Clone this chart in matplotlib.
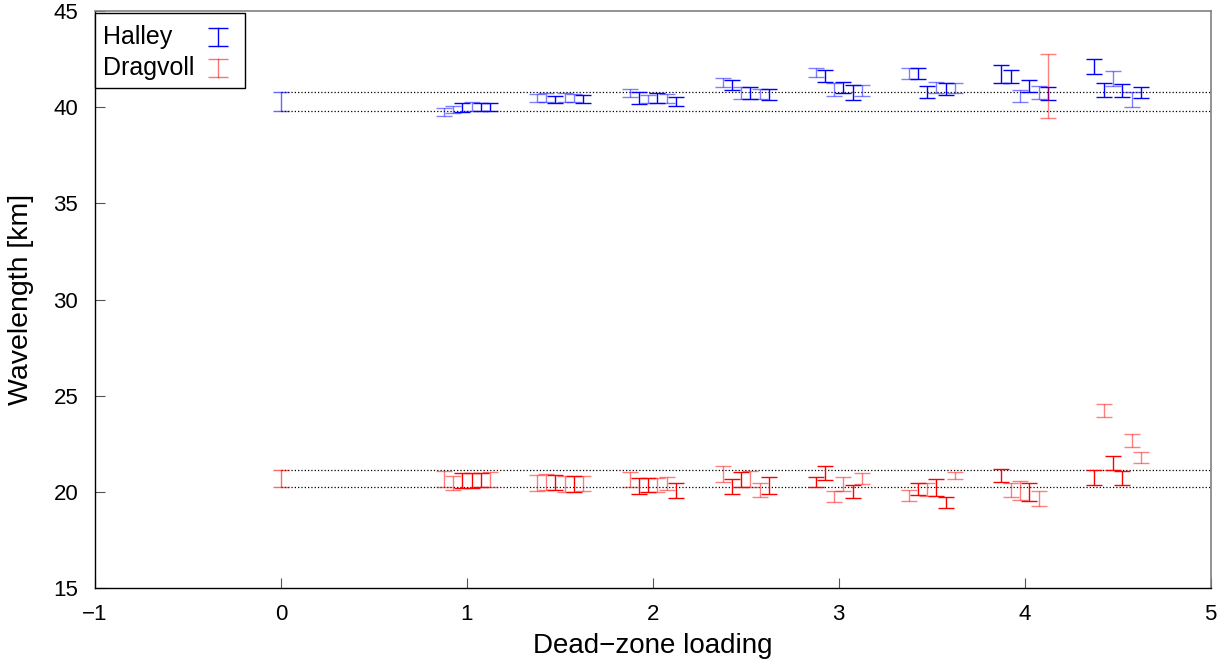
import numpy as np
import matplotlib
matplotlib.use("Agg")
import matplotlib.pyplot as plt
from matplotlib.patches import Rectangle

plt.rcParams['font.family'] = ['Liberation Sans', 'DejaVu Sans']

# dead-zone loading of each group and the offsets of the six runs inside a group
loadings = [1.0, 1.5, 2.0, 2.5, 3.0, 3.5, 4.0, 4.5]
offsets = [-0.125, -0.075, -0.025, 0.025, 0.075, 0.125]

# reference run at zero loading: (low, high)
halley_ref = (39.82, 40.77)
dragvoll_ref = (20.27, 21.13)

# Halley: low / high end of each run, one row per loading
halley_low = [
    [39.54, 39.68, 39.76, 39.82, 39.82, 39.82],
    [40.25, 40.29, 40.20, 40.29, 40.25, 40.20],
    [40.51, 40.17, 40.23, 40.23, 40.20, 40.06],
    [41.04, 40.90, 40.43, 40.43, 40.43, 40.37],
    [41.56, 41.33, 40.60, 40.72, 40.37, 40.58],
    [41.45, 41.45, 40.46, 40.72, 40.64, 40.72],
    [41.28, 41.28, 40.29, 40.78, 40.43, 40.36],
    [41.75, 40.53, 41.11, 40.51, 40.03, 40.46],
]
halley_high = [
    [39.97, 40.08, 40.20, 40.29, 40.23, 40.23],
    [40.67, 40.72, 40.60, 40.72, 40.69, 40.64],
    [40.95, 40.81, 40.64, 40.72, 40.69, 40.55],
    [41.54, 41.42, 41.04, 41.04, 40.93, 40.93],
    [42.03, 41.91, 41.28, 41.33, 41.16, 41.16],
    [42.06, 42.03, 41.11, 41.30, 41.25, 41.25],
    [42.20, 41.91, 40.90, 41.42, 41.11, 41.07],
    [42.50, 41.25, 41.86, 41.21, 40.78, 41.07],
]
# which runs are drawn pale
halley_pale = [
    [1, 1, 0, 1, 0, 0],
    [1, 1, 0, 1, 1, 0],
    [1, 0, 1, 0, 1, 0],
    [1, 0, 1, 0, 1, 0],
    [1, 0, 1, 0, 0, 1],
    [1, 0, 0, 1, 0, 1],
    [0, 0, 1, 0, 1, 0],
    [0, 0, 1, 0, 1, 0],
]

# Dragvoll
dragvoll_low = [
    [20.27, 20.13, 20.19, 20.19, 20.24, 20.27],
    [20.05, 20.10, 20.10, 20.01, 19.98, 20.05],
    [20.27, 19.92, 19.98, 19.98, 20.10, 19.71],
    [20.53, 19.89, 20.27, 20.27, 19.75, 19.92],
    [20.25, 20.62, 19.47, 20.06, 19.68, 20.41],
    [19.52, 19.87, 19.82, 19.80, 19.19, 20.66],
    [20.53, 19.75, 19.58, 19.52, 19.26, 39.45],
    [20.39, 23.90, 21.17, 20.39, 22.34, 21.52],
]
dragvoll_high = [
    [21.09, 20.85, 21.00, 21.00, 21.00, 21.04],
    [20.88, 20.95, 20.88, 20.85, 20.85, 20.85],
    [21.07, 20.71, 20.71, 20.74, 20.79, 20.45],
    [21.35, 20.66, 21.02, 21.09, 20.45, 20.76],
    [20.81, 21.35, 20.06, 20.81, 20.36, 21.00],
    [20.13, 20.48, 20.45, 20.66, 19.75, 21.07],
    [21.18, 20.45, 20.59, 20.45, 20.06, 42.76],
    [21.17, 24.56, 21.88, 21.09, 23.01, 22.09],
]
dragvoll_pale = [
    [1, 1, 0, 0, 0, 1],
    [1, 1, 0, 1, 0, 1],
    [1, 0, 0, 1, 1, 0],
    [1, 0, 0, 1, 1, 0],
    [0, 0, 1, 1, 0, 1],
    [1, 0, 1, 0, 0, 1],
    [0, 1, 1, 0, 1, 1],
    [0, 1, 0, 0, 1, 1],
]

series_names = ['Halley', 'Dragvoll']


def draw_series(ax, ref, low, high, pale, color):
    x = np.add.outer(loadings, offsets)
    low = np.array(low)
    high = np.array(high)
    pale = np.array(pale, dtype=bool)
    kw = dict(fmt='none', ecolor=color, elinewidth=1.0, capsize=5.8, capthick=1.0)
    for mask, alpha in [(pale, 0.5), (~pale, 1.0)]:
        mid = (low[mask] + high[mask]) / 2
        half = (high[mask] - low[mask]) / 2
        ax.errorbar(x[mask], mid, yerr=half, alpha=alpha, **kw)
    ax.errorbar([0], [(ref[0] + ref[1]) / 2], yerr=[(ref[1] - ref[0]) / 2],
                alpha=0.6, **kw)
    # reference band from the zero-loading run
    ax.hlines(ref, 0, 5, colors='black', linestyles=':', linewidth=0.9, zorder=0)


fig = plt.figure(figsize=(12.32, 6.64), dpi=100)
ax = fig.add_axes([0.0771, 0.114, 0.9056, 0.8694])

draw_series(ax, halley_ref, halley_low, halley_high, halley_pale, 'blue')
draw_series(ax, dragvoll_ref, dragvoll_low, dragvoll_high, dragvoll_pale, 'red')

ax.set_xlim(-1, 5)
ax.set_ylim(15, 45)
ax.set_xticks(np.arange(-1, 6, 1))
ax.set_yticks(np.arange(15, 46, 5))
ax.set_xticklabels(['\u22121', '0', '1', '2', '3', '4', '5'])
ax.tick_params(direction='in', top=False, right=False, labelsize=16, length=7.5,
               color='#555555', width=0.8)
ax.tick_params(axis='x', pad=11)
ax.tick_params(axis='y', pad=12)
ax.set_xlabel('Dead\u2212zone loading', fontsize=20)
ax.set_ylabel('Wavelength [km]', fontsize=20.5)
ax.xaxis.set_label_coords(0.5, -0.078)
ax.yaxis.set_label_coords(-0.055, 0.5)
for side in ['bottom', 'left']:
    ax.spines[side].set_linewidth(1.0)
    ax.spines[side].set_color('black')
for side in ['top', 'right']:
    ax.spines[side].set_linewidth(1.2)
    ax.spines[side].set_color('#808080')

# legend box drawn by hand: text on the left, error-bar symbol on the right
ax.add_patch(Rectangle((0.0, 0.8666), 0.1344, 0.1299, transform=ax.transAxes,
                       facecolor='white', edgecolor='black', linewidth=1.0,
                       zorder=5, clip_on=False))
for name, color, alpha, yc in [(series_names[0], 'blue', 1.0, 0.955),
                               (series_names[1], 'red', 0.55, 0.902)]:
    ax.text(0.0072, yc, name, transform=ax.transAxes, fontsize=18,
            ha='left', va='center', zorder=6)
    ax.plot([0.1102, 0.1102], [yc - 0.0155, yc + 0.0155], color=color, alpha=alpha,
            linewidth=1.0, marker='_', markersize=14, markeredgewidth=1.0,
            transform=ax.transAxes, clip_on=False, zorder=6)

fig.savefig('out.png', dpi=100)
